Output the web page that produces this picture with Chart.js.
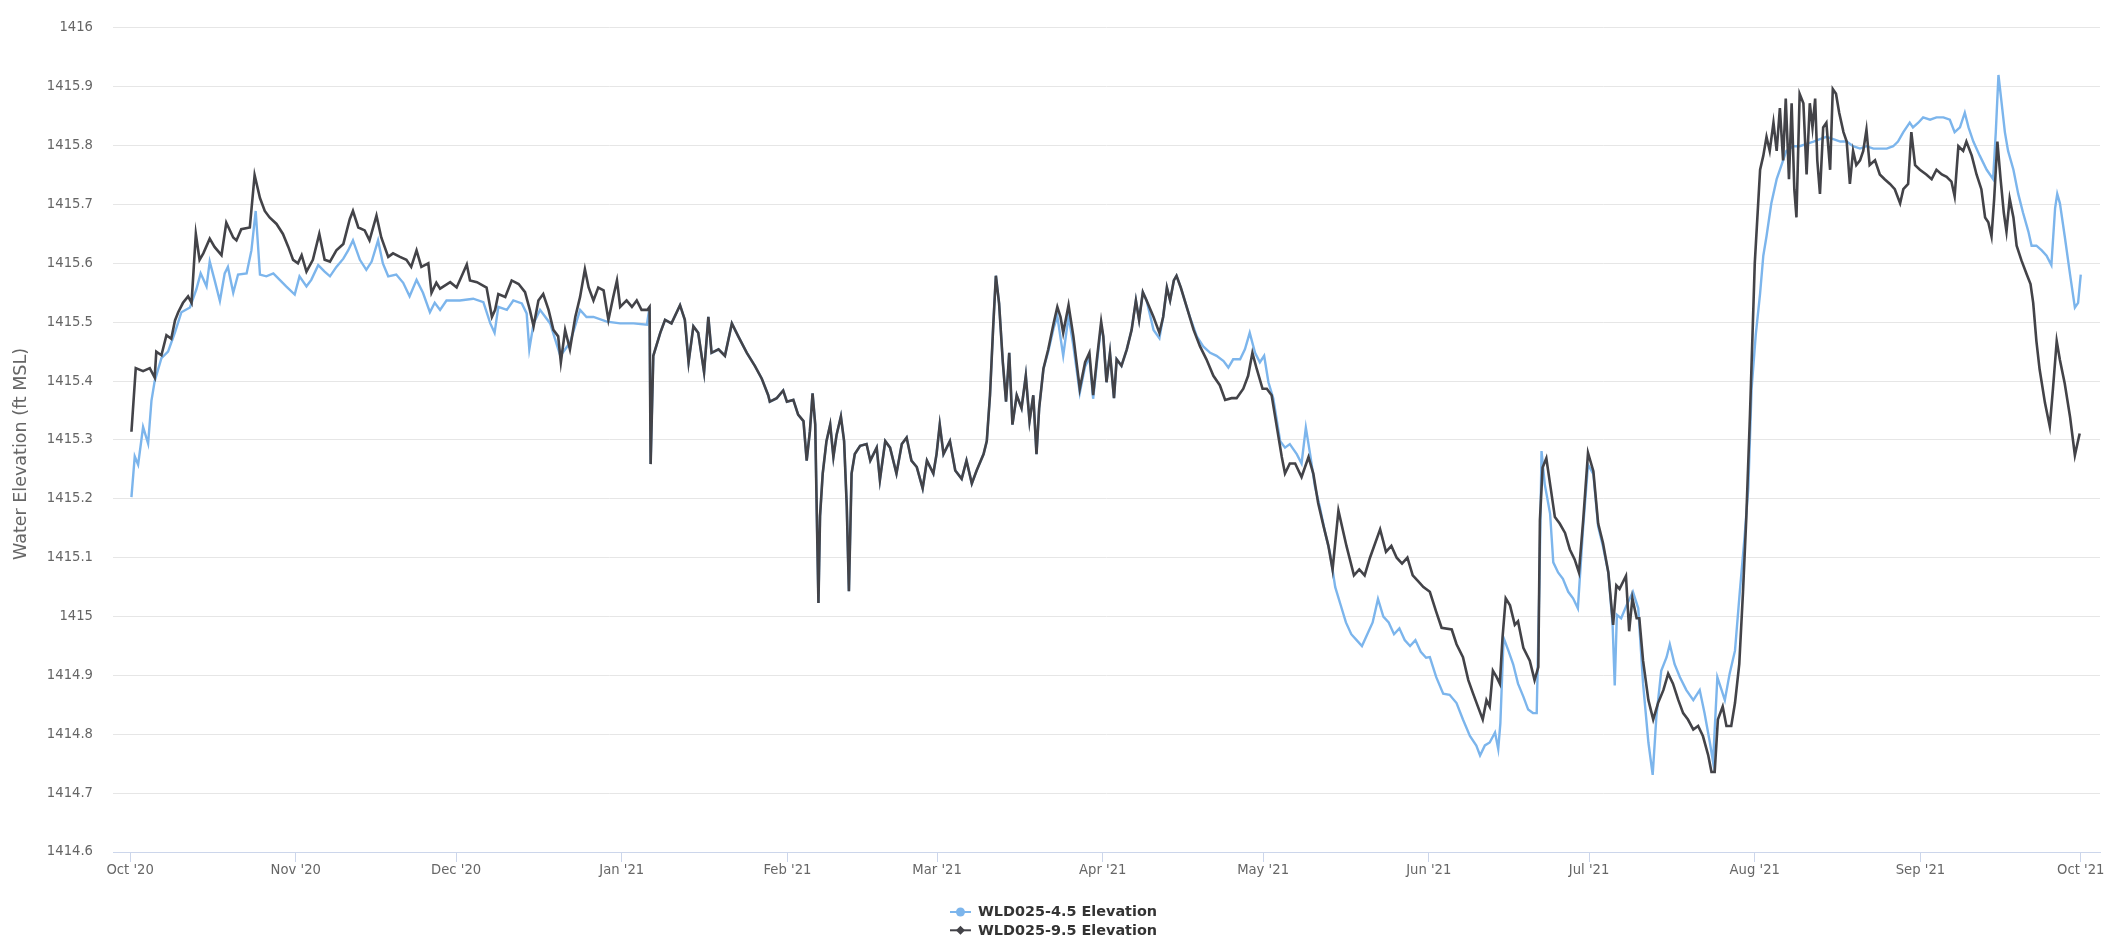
<!DOCTYPE html>
<html>
<head>
<meta charset="utf-8">
<script src="https://cdn.jsdelivr.net/npm/chart.js@4.4.1/dist/chart.umd.min.js"></script>
<style>
html,body{margin:0;padding:0;background:#ffffff;}
#wrap{width:2107px;height:948px;}
</style>
</head>
<body>
<div id="wrap"><canvas id="c" width="2107" height="948"></canvas></div>
<script>
// x values are days since 1 Oct 2020 (00:00)
const monthTickDays = [0, 31, 61, 92, 123, 151, 182, 212, 243, 273, 304, 335, 365];
const monthTickLabels = ["Oct '20", "Nov '20", "Dec '20", "Jan '21", "Feb '21", "Mar '21", "Apr '21", "May '21", "Jun '21", "Jul '21", "Aug '21", "Sep '21", "Oct '21"];
const seriesNames = ["WLD025-4.5 Elevation", "WLD025-9.5 Elevation"];
const yAxisTitle = "Water Elevation (ft MSL)";

// WLD025-4.5 Elevation  [day, ft MSL]
const wld045 = [
[0.25,1415.203],[0.87,1415.272],[1.5,1415.258],[2.43,1415.322],[3.37,1415.294],[4.0,1415.367],[4.6,1415.4],[5.86,1415.439],[7.1,1415.45],[8.4,1415.483],[9.6,1415.517],[11.2,1415.525],[12.4,1415.556],[13.2,1415.583],[14.3,1415.561],[14.9,1415.603],[15.8,1415.572],[16.8,1415.536],[17.7,1415.583],[18.3,1415.594],[19.3,1415.55],[20.2,1415.581],[21.8,1415.583],[22.7,1415.622],[23.5,1415.689],[24.3,1415.581],[25.5,1415.578],[26.8,1415.583],[28.0,1415.572],[29.2,1415.561],[30.8,1415.547],[31.7,1415.578],[33.0,1415.561],[33.9,1415.572],[35.2,1415.597],[36.4,1415.586],[37.4,1415.578],[38.6,1415.594],[39.9,1415.608],[40.8,1415.622],[41.7,1415.639],[43.0,1415.606],[44.2,1415.589],[45.2,1415.603],[46.4,1415.639],[47.3,1415.6],[48.3,1415.578],[49.8,1415.581],[51.1,1415.567],[52.3,1415.544],[53.6,1415.572],[54.8,1415.55],[56.1,1415.517],[57.0,1415.533],
[58.0,1415.521],[59.2,1415.537],[61.7,1415.537],[64.2,1415.54],[66.1,1415.534],[67.4,1415.498],[68.2,1415.482],[68.9,1415.526],[70.5,1415.521],[71.7,1415.537],[73.3,1415.532],[74.2,1415.515],[74.7,1415.454],[75.5,1415.498],[76.7,1415.521],[78.6,1415.498],[80.5,1415.443],[82.3,1415.465],[84.2,1415.521],[85.4,1415.509],[86.7,1415.509],[89.2,1415.501],[91.7,1415.498],[94.2,1415.498],[96.7,1415.496],
[97.2,1415.526],[97.4,1415.259],[97.9,1415.443],[99.2,1415.482],[100.1,1415.504],[101.3,1415.498],[102.9,1415.529],[103.8,1415.504],[104.5,1415.432],[105.4,1415.493],[106.3,1415.482],[107.4,1415.415],[108.2,1415.509],[108.8,1415.448],[110.1,1415.454],[111.3,1415.443],[112.6,1415.498],[113.8,1415.476],[115.4,1415.448],[116.9,1415.426],[118.2,1415.404],[119.4,1415.376],
[119.7,1415.365],[121.0,1415.371],[122.2,1415.384],[122.9,1415.365],[124.1,1415.368],[125.0,1415.343],[126.0,1415.332],[126.6,1415.265],[127.2,1415.315],[127.7,1415.379],[128.2,1415.326],[128.5,1415.171],[128.8,1415.023],[129.1,1415.171],[129.6,1415.243],[130.3,1415.298],[131.0,1415.326],[131.6,1415.271],[132.2,1415.309],[133.0,1415.34],[133.6,1415.298],[134.1,1415.187],[134.5,1415.043],[135.0,1415.243],[135.6,1415.276],[136.6,1415.29],[137.8,1415.293],[138.5,1415.265],[139.7,1415.287],[140.3,1415.232],[141.3,1415.298],[142.2,1415.287],[143.4,1415.243],[144.4,1415.293],[145.3,1415.304],[146.2,1415.265],[147.2,1415.254],[148.3,1415.218],[149.1,1415.265],[150.3,1415.243],[150.9,1415.276],[151.5,1415.326],[152.2,1415.276],[153.4,1415.298],[154.4,1415.248],[155.6,1415.234],[156.5,1415.265],[157.5,1415.226],[158.4,1415.248],[159.7,1415.276],[160.3,1415.298],[160.9,1415.376],[161.5,1415.493],[162.0,1415.579],[162.6,1415.532],[163.3,1415.432],[163.9,1415.365],[164.5,1415.448],[165.1,1415.326],[165.9,1415.376],[166.8,1415.354],[167.6,1415.409],[168.3,1415.332],[169.0,1415.376],[169.6,1415.276],[170.1,1415.354],[170.9,1415.421],[171.8,1415.45],[172.8,1415.49],[173.5,1415.51],[174.6,1415.443],[175.6,1415.51],[176.5,1415.46],[177.7,1415.38],[178.7,1415.425],[179.5,1415.44],[180.2,1415.37],[180.9,1415.43],[181.7,1415.495],
[182.1,1415.476],[182.7,1415.398],[183.35,1415.448],[184.1,1415.371],[184.6,1415.437],[185.5,1415.426],[186.5,1415.454],[187.4,1415.487],[188.2,1415.537],[188.8,1415.504],[189.5,1415.551],[190.2,1415.537],[191.5,1415.487],[192.6,1415.473],[193.3,1415.509],[194.0,1415.559],[194.6,1415.537],[195.3,1415.571],[195.8,1415.579],[196.6,1415.559],[197.7,1415.526],[198.3,1415.509],[199.6,1415.476],[200.8,1415.459],[202.1,1415.448],[203.3,1415.443],[204.6,1415.434],[205.5,1415.423],[206.4,1415.437],[207.7,1415.437],[208.6,1415.454],[209.5,1415.482],[210.5,1415.448],[211.4,1415.432],[212.2,1415.443],[213.0,1415.398],[213.9,1415.371],[215.2,1415.298],[216.1,1415.287],[217.0,1415.293],[218.3,1415.276],[219.2,1415.26],[220.0,1415.321],[220.8,1415.276],[221.7,1415.221],[222.6,1415.187],[223.6,1415.143],[224.5,1415.109],
[225.5,1415.05],[226.5,1415.02],[227.5,1414.99],[228.5,1414.97],[229.5,1414.96],[230.5,1414.95],[231.5,1414.97],[232.5,1414.99],[233.5,1415.03],[234.5,1415.0],[235.5,1414.99],[236.5,1414.97],[237.5,1414.98],[238.5,1414.96],[239.5,1414.95],[240.5,1414.96],[241.5,1414.94],[242.5,1414.93],
[243.2,1414.931],[244.4,1414.897],[245.7,1414.869],[246.9,1414.867],[248.2,1414.853],[249.4,1414.825],[250.7,1414.797],[251.9,1414.781],[252.6,1414.764],[253.5,1414.781],[254.4,1414.786],[255.4,1414.803],[256.0,1414.775],[256.4,1414.819],[257.0,1414.964],[257.9,1414.942],[258.8,1414.919],[259.7,1414.886],[260.7,1414.864],[261.6,1414.842],[262.5,1414.836],[263.2,1414.836],[263.7,1415.053],[264.1,1415.281],[264.7,1415.225],[265.7,1415.175],[266.3,1415.092],[267.2,1415.075],[268.1,1415.064],[269.1,1415.042],[270.0,1415.031],[270.9,1415.014],[271.9,1415.153],[272.8,1415.258],[273.8,1415.242],[274.7,1415.153],[275.6,1415.119],[276.6,1415.075],[277.4,1414.986],[277.8,1414.883],[278.2,1415.003],[279.0,1414.997],[280.0,1415.019],[281.2,1415.042],[282.2,1415.014],[283.1,1414.886],[284.1,1414.786],[284.9,1414.731],[285.6,1414.831],[286.5,1414.908],[287.5,1414.931],[288.1,1414.953],[289.0,1414.919],[290.0,1414.897],[291.2,1414.875],[292.5,1414.858],[293.7,1414.875],[294.6,1414.836],[295.6,1414.786],[296.2,1414.753],[297.0,1414.897],[297.8,1414.875],[298.4,1414.858],[299.3,1414.903],[300.3,1414.942],[301.2,1415.042],[302.1,1415.136],[302.8,1415.219],[303.4,1415.386],[304.2,1415.48],
[305.0,1415.549],[305.6,1415.613],[306.2,1415.646],[307.1,1415.702],[308.1,1415.743],[309.0,1415.767],[309.9,1415.791],[311.2,1415.799],[312.4,1415.799],[313.7,1415.803],[315.0,1415.807],[316.2,1415.811],[317.4,1415.815],[318.7,1415.811],[320.0,1415.807],[321.2,1415.807],[322.4,1415.799],[323.7,1415.795],[324.9,1415.799],[326.2,1415.795],[327.4,1415.795],[328.7,1415.795],[329.9,1415.799],[330.8,1415.807],[331.8,1415.823],[333.0,1415.839],[333.6,1415.831],[334.6,1415.839],[335.5,1415.848],[336.8,1415.844],[338.0,1415.848],[339.3,1415.848],[340.5,1415.844],[341.4,1415.823],[342.4,1415.831],[343.3,1415.856],[344.0,1415.831],[344.9,1415.807],[346.1,1415.783],[347.4,1415.759],[348.6,1415.743],[349.1,1415.823],[349.6,1415.92],[350.2,1415.872],[350.8,1415.823],[351.4,1415.791],[352.4,1415.759],[353.3,1415.718],[354.2,1415.686],[355.2,1415.654],[355.8,1415.63],[356.7,1415.63],[357.7,1415.622],[358.6,1415.613],[359.5,1415.597],[360.2,1415.694],[360.6,1415.718],[361.1,1415.702],[362.0,1415.646],[363.0,1415.581],[363.9,1415.525],[364.5,1415.533],[365.0,1415.581]
];

// WLD025-9.5 Elevation  [day, ft MSL]
const wld095 = [
[0.25,1415.314],[1.06,1415.422],[2.43,1415.417],[3.68,1415.422],[4.6,1415.406],[4.9,1415.45],[5.86,1415.444],[6.8,1415.478],[7.7,1415.472],[8.4,1415.503],[9.0,1415.517],[9.9,1415.533],[10.85,1415.544],[11.5,1415.533],[12.3,1415.65],[13.0,1415.606],[13.7,1415.617],[14.9,1415.642],[15.8,1415.628],[17.1,1415.614],[18.0,1415.669],[19.3,1415.644],[19.9,1415.639],[20.8,1415.658],[22.4,1415.661],[23.3,1415.75],[24.3,1415.711],[25.2,1415.689],[26.1,1415.678],[27.4,1415.667],[28.6,1415.65],[29.6,1415.628],[30.5,1415.606],[31.4,1415.6],[32.1,1415.614],[33.0,1415.586],[34.2,1415.606],[35.4,1415.65],[36.4,1415.606],[37.4,1415.603],[38.6,1415.622],[39.9,1415.633],[41.1,1415.675],[41.7,1415.689],[42.7,1415.661],[43.9,1415.656],[44.8,1415.639],[46.1,1415.681],[47.0,1415.644],[48.3,1415.611],[49.2,1415.617],[50.5,1415.611],[51.7,1415.606],[52.6,1415.594],[53.6,1415.622],[54.5,1415.594],[55.8,1415.6],[56.4,1415.55],[57.3,1415.567],
[58.0,1415.557],[59.9,1415.568],[61.1,1415.559],[63.0,1415.598],[63.6,1415.571],[64.9,1415.568],[66.7,1415.559],[67.7,1415.509],[68.3,1415.521],[68.9,1415.548],[70.2,1415.543],[71.4,1415.571],[72.7,1415.565],[73.9,1415.551],[74.8,1415.521],[75.5,1415.493],[76.4,1415.537],[77.3,1415.548],[78.3,1415.521],[79.2,1415.487],[80.1,1415.476],[80.6,1415.432],[81.4,1415.487],[82.3,1415.454],[83.3,1415.509],[84.2,1415.543],[85.1,1415.59],[85.8,1415.559],[86.7,1415.537],[87.6,1415.559],[88.6,1415.554],[89.5,1415.504],[90.4,1415.543],[91.1,1415.571],[91.7,1415.526],[92.9,1415.537],[93.9,1415.526],[94.8,1415.537],[95.7,1415.521],[96.8,1415.521],
[97.2,1415.526],[97.4,1415.259],[97.9,1415.443],[99.2,1415.482],[100.1,1415.504],[101.3,1415.498],[102.9,1415.529],[103.8,1415.504],[104.5,1415.432],[105.4,1415.493],[106.3,1415.482],[107.4,1415.415],[108.2,1415.509],[108.8,1415.448],[110.1,1415.454],[111.3,1415.443],[112.6,1415.498],[113.8,1415.476],[115.4,1415.448],[116.9,1415.426],[118.2,1415.404],[119.4,1415.376],
[119.7,1415.365],[121.0,1415.371],[122.2,1415.384],[122.9,1415.365],[124.1,1415.368],[125.0,1415.343],[126.0,1415.332],[126.6,1415.265],[127.2,1415.315],[127.7,1415.379],[128.2,1415.326],[128.5,1415.171],[128.8,1415.023],[129.1,1415.171],[129.6,1415.243],[130.3,1415.298],[131.0,1415.326],[131.6,1415.271],[132.2,1415.309],[133.0,1415.34],[133.6,1415.298],[134.1,1415.187],[134.5,1415.043],[135.0,1415.243],[135.6,1415.276],[136.6,1415.29],[137.8,1415.293],[138.5,1415.265],[139.7,1415.287],[140.3,1415.232],[141.3,1415.298],[142.2,1415.287],[143.4,1415.243],[144.4,1415.293],[145.3,1415.304],[146.2,1415.265],[147.2,1415.254],[148.3,1415.218],[149.1,1415.265],[150.3,1415.243],[150.9,1415.276],[151.5,1415.326],[152.2,1415.276],[153.4,1415.298],[154.4,1415.248],[155.6,1415.234],[156.5,1415.265],[157.5,1415.226],[158.4,1415.248],[159.7,1415.276],[160.3,1415.298],[160.9,1415.376],[161.5,1415.493],[162.0,1415.579],[162.6,1415.532],[163.3,1415.432],[163.9,1415.365],[164.5,1415.448],[165.1,1415.326],[165.9,1415.376],[166.8,1415.354],[167.6,1415.409],[168.3,1415.332],[169.0,1415.376],[169.6,1415.276],[170.1,1415.354],[170.9,1415.421],[171.8,1415.454],[172.8,1415.498],[173.5,1415.526],[174.1,1415.509],[174.6,1415.482],[175.6,1415.529],[176.5,1415.476],[177.7,1415.387],[178.7,1415.432],[179.5,1415.448],[180.2,1415.376],[180.9,1415.437],[181.7,1415.501],
[182.1,1415.476],[182.7,1415.398],[183.35,1415.448],[184.1,1415.371],[184.6,1415.437],[185.5,1415.426],[186.5,1415.454],[187.4,1415.487],[188.2,1415.537],[188.8,1415.504],[189.5,1415.551],[190.2,1415.537],[191.5,1415.509],[192.6,1415.482],[193.3,1415.509],[194.0,1415.559],[194.6,1415.537],[195.3,1415.571],[195.8,1415.579],[196.6,1415.559],[197.7,1415.526],[199.0,1415.487],[200.2,1415.459],[201.4,1415.437],[202.7,1415.409],[203.9,1415.393],[204.9,1415.368],[206.1,1415.371],[207.05,1415.371],[208.3,1415.387],[209.2,1415.409],[210.0,1415.448],[210.8,1415.421],[211.9,1415.387],[212.7,1415.387],[213.6,1415.376],[214.5,1415.326],[215.5,1415.271],[216.1,1415.243],[217.0,1415.26],[218.0,1415.26],[219.2,1415.237],[220.5,1415.271],[221.4,1415.243],[222.3,1415.193],[223.3,1415.154],[224.2,1415.121],
[225.0,1415.08],[226.1,1415.18],[227.6,1415.12],[229.0,1415.07],[230.0,1415.08],[231.0,1415.07],[232.0,1415.1],[233.9,1415.148],[235.0,1415.11],[236.0,1415.12],[237.0,1415.1],[238.0,1415.09],[239.0,1415.1],[240.0,1415.07],[241.0,1415.06],[242.0,1415.05],
[243.2,1415.042],[244.4,1415.008],[245.4,1414.981],[247.3,1414.978],[248.2,1414.953],[249.4,1414.931],[250.4,1414.892],[251.3,1414.869],[252.2,1414.847],[253.1,1414.825],[253.8,1414.858],[254.4,1414.847],[255.0,1414.908],[255.7,1414.897],[256.3,1414.886],[256.8,1414.964],[257.4,1415.031],[258.2,1415.019],[259.1,1414.986],[259.7,1414.992],[260.7,1414.947],[261.9,1414.925],[262.8,1414.892],[263.5,1414.914],[263.8,1415.164],[264.3,1415.253],[265.0,1415.269],[265.8,1415.219],[266.6,1415.169],[267.5,1415.158],[268.5,1415.142],[269.4,1415.114],[270.3,1415.097],[271.1,1415.075],[271.9,1415.164],[272.8,1415.278],[273.8,1415.247],[274.7,1415.158],[275.6,1415.125],[276.6,1415.075],[277.5,1414.986],[278.1,1415.053],[278.7,1415.047],[279.9,1415.069],[280.5,1414.975],[281.1,1415.031],[281.9,1414.997],[282.4,1414.997],[283.1,1414.925],[284.1,1414.858],[285.0,1414.825],[285.9,1414.853],[286.9,1414.875],[287.8,1414.903],[288.7,1414.886],[289.7,1414.858],[290.6,1414.836],[291.5,1414.825],[292.5,1414.808],[293.4,1414.814],[294.3,1414.797],[295.3,1414.764],[295.9,1414.736],[296.5,1414.736],[297.1,1414.825],[298.0,1414.847],[298.7,1414.814],[299.6,1414.814],[300.3,1414.853],[301.1,1414.919],[301.8,1415.042],[302.4,1415.164],[303.1,1415.342],[304.0,1415.6],
[305.0,1415.759],[305.6,1415.783],[306.2,1415.815],[306.8,1415.791],[307.5,1415.839],[308.1,1415.791],[308.7,1415.864],[309.3,1415.775],[309.8,1415.88],[310.4,1415.743],[310.9,1415.872],[311.4,1415.726],[311.8,1415.678],[312.4,1415.888],[313.1,1415.872],[313.7,1415.751],[314.3,1415.872],[314.8,1415.831],[315.3,1415.88],[315.7,1415.775],[316.2,1415.718],[316.8,1415.831],[317.4,1415.839],[318.1,1415.759],[318.6,1415.896],[319.2,1415.888],[319.8,1415.856],[320.6,1415.823],[321.2,1415.807],[321.8,1415.735],[322.4,1415.791],[323.0,1415.767],[323.7,1415.775],[324.3,1415.791],[324.9,1415.827],[325.5,1415.767],[326.5,1415.775],[327.4,1415.751],[328.3,1415.743],[329.3,1415.735],[330.2,1415.726],[331.2,1415.702],[331.8,1415.726],[332.7,1415.735],[333.3,1415.823],[334.0,1415.767],[334.9,1415.759],[336.1,1415.751],[337.1,1415.743],[338.0,1415.759],[339.0,1415.751],[339.9,1415.747],[340.8,1415.739],[341.4,1415.714],[342.1,1415.799],[343.0,1415.791],[343.6,1415.807],[344.6,1415.783],[345.5,1415.751],[346.4,1415.726],[347.1,1415.678],[347.7,1415.67],[348.3,1415.646],[348.8,1415.71],[349.4,1415.807],[350.0,1415.743],[350.6,1415.686],[351.1,1415.654],[351.7,1415.71],[352.4,1415.678],[353.0,1415.63],[353.9,1415.605],[354.9,1415.581],[355.6,1415.565],[356.1,1415.533],[356.7,1415.468],[357.3,1415.42],[358.3,1415.363],[359.2,1415.323],[359.8,1415.387],[360.5,1415.468],[361.1,1415.436],[362.0,1415.396],[363.0,1415.339],[363.9,1415.274],[364.4,1415.295],[364.8,1415.311]
];

const FONT = '"DejaVu Sans", "Liberation Sans", sans-serif';

// stacked (one item per row) legend below the x axis
const stackedLegend = {
  id: 'stackedLegend',
  afterDraw(chart) {
    const ctx = chart.ctx;
    const area = chart.chartArea;
    const sets = chart.data.datasets;
    ctx.save();
    ctx.font = 'bold 14.4px ' + FONT;
    ctx.textBaseline = 'middle';
    ctx.textAlign = 'left';
    const symW = 21, gap = 7, rowH = 18.3;
    const textW = Math.max.apply(null, sets.map(d => ctx.measureText(d.label).width));
    const x0 = (chart.width - (symW + gap + textW)) / 2;
    sets.forEach((d, i) => {
      const y = area.bottom + 60 + i * rowH;
      ctx.strokeStyle = d.borderColor;
      ctx.lineWidth = 2;
      ctx.beginPath();
      ctx.moveTo(x0, y);
      ctx.lineTo(x0 + symW, y);
      ctx.stroke();
      ctx.fillStyle = d.borderColor;
      const cx = x0 + symW / 2, r = 4.5;
      ctx.beginPath();
      if (d.pointStyle === 'rectRot') {
        ctx.moveTo(cx, y - r); ctx.lineTo(cx + r, y); ctx.lineTo(cx, y + r); ctx.lineTo(cx - r, y); ctx.closePath();
      } else {
        ctx.arc(cx, y, r, 0, Math.PI * 2);
      }
      ctx.fill();
      ctx.fillStyle = '#333333';
      ctx.fillText(d.label, x0 + symW + gap, y + 0.5);
    });
    ctx.restore();
  }
};

// rotated y-axis title, placed like the original
const yTitlePlugin = {
  id: 'yTitle',
  afterDraw(chart) {
    const ctx = chart.ctx;
    const area = chart.chartArea;
    ctx.save();
    ctx.translate(21.5, (area.top + area.bottom) / 2 + 14);
    ctx.rotate(-Math.PI / 2);
    ctx.font = '17.5px ' + FONT;
    ctx.fillStyle = '#666666';
    ctx.textAlign = 'center';
    ctx.textBaseline = 'middle';
    ctx.fillText(yAxisTitle, 0, 0);
    ctx.restore();
  }
};

const toPts = arr => arr.map(p => ({ x: p[0], y: p[1] }));

new Chart(document.getElementById('c').getContext('2d'), {
  type: 'line',
  data: {
    datasets: [
      { label: seriesNames[0], data: toPts(wld045), borderColor: '#7cb5ec', backgroundColor: '#7cb5ec',
        borderWidth: 2.4, pointRadius: 0, pointHoverRadius: 0, tension: 0, order: 1, pointStyle: 'circle', fill: false },
      { label: seriesNames[1], data: toPts(wld095), borderColor: '#434348', backgroundColor: '#434348',
        borderWidth: 2.6, pointRadius: 0, pointHoverRadius: 0, tension: 0, order: 0, pointStyle: 'rectRot', fill: false }
    ]
  },
  options: {
    responsive: false,
    animation: false,
    devicePixelRatio: 1,
    layout: { padding: { left: 0, right: 7, top: 12, bottom: 60 } },
    plugins: { legend: { display: false }, tooltip: { enabled: false } },
    scales: {
      x: {
        type: 'linear',
        min: -3.2,
        max: 368.6,
        afterBuildTicks: s => { s.ticks = monthTickDays.map(v => ({ value: v })); },
        afterFit: s => { s.height = 36; },
        grid: { display: true, drawOnChartArea: false, drawTicks: true, tickLength: 10, tickColor: '#ccd6eb', tickWidth: 1 },
        border: { display: true, color: '#ccd6eb', width: 1 },
        ticks: {
          autoSkip: false, maxRotation: 0, minRotation: 0, padding: 1,
          color: '#666666', font: { family: FONT, size: 13.2 },
          callback: v => monthTickLabels[monthTickDays.indexOf(v)]
        }
      },
      y: {
        min: 1414.6,
        max: 1416,
        afterFit: s => { s.width = 113; },
        grid: { color: '#e6e6e6', lineWidth: 1, drawTicks: false },
        border: { display: false },
        ticks: {
          stepSize: 0.1, padding: 20, color: '#666666', font: { family: FONT, size: 13.2 },
          callback: v => String(Math.round(v * 10) / 10)
        },
        title: { display: false }
      }
    }
  },
  plugins: [stackedLegend, yTitlePlugin]
});
</script>
</body>
</html>
